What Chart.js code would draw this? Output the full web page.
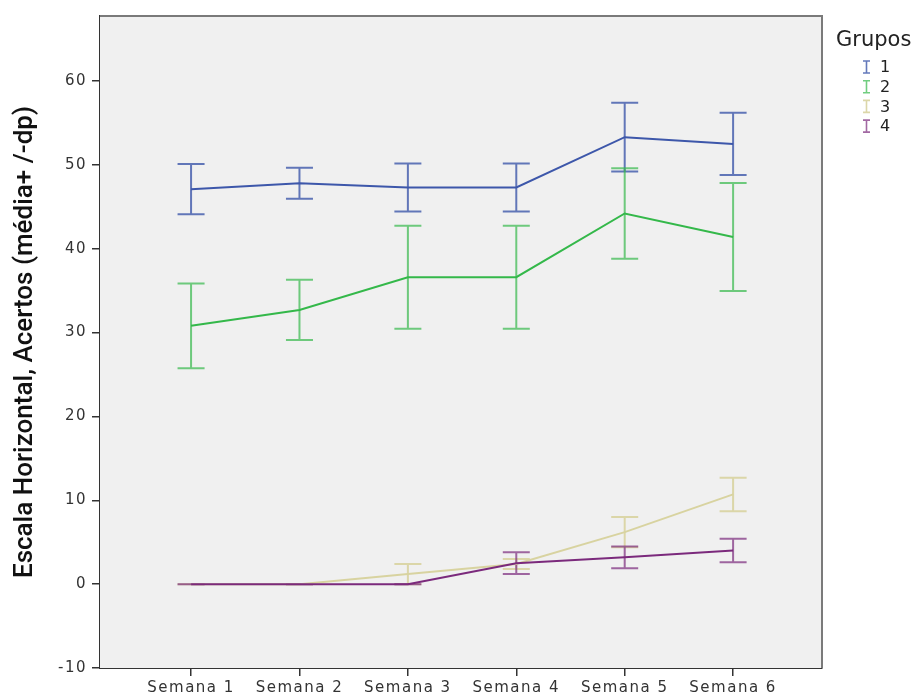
<!DOCTYPE html>
<html>
<head>
<meta charset="utf-8">
<script src="https://cdn.jsdelivr.net/npm/chart.js@4/dist/chart.umd.min.js"></script>
<style>
  html, body { margin: 0; padding: 0; background: #ffffff; }
  #wrap { width: 918px; height: 700px; }
</style>
</head>
<body>
<div id="wrap"><canvas id="chart" width="918" height="700"></canvas></div>
<script>
// Weekly accuracy scores per group: means and standard deviations
const weeks = ['Semana 1', 'Semana 2', 'Semana 3', 'Semana 4', 'Semana 5', 'Semana 6'];
const groupNames = ['1', '2', '3', '4'];
const yTitle = 'Escala Horizontal, Acertos (média+ /-dp)';
const legendTitle = 'Grupos';

const mean1 = [47.1, 47.8, 47.3, 47.3, 53.3, 52.5];
const sd1   = [3.0, 1.85, 2.85, 2.85, 4.1, 3.7];
const mean2 = [30.8, 32.7, 36.6, 36.6, 44.2, 41.4];
const sd2   = [5.05, 3.6, 6.15, 6.15, 5.4, 6.45];
const mean3 = [0, 0, 1.2, 2.4, 6.2, 10.7];
const sd3   = [0, 0, 1.2, 0.6, 1.8, 2.0];
const mean4 = [0, 0, 0, 2.5, 3.2, 4.0];
const sd4   = [0, 0, 0, 1.3, 1.3, 1.4];

const yTicks = [-10, 0, 10, 20, 30, 40, 50, 60];

const colors = ['#3D57AA', '#34B84A', '#D8D3A0', '#7B2A7C'];
const barColors = ['rgba(61,87,170,0.8)', 'rgba(52,184,74,0.7)', 'rgba(216,211,160,0.9)', 'rgba(123,42,124,0.7)'];

const means = [mean1, mean2, mean3, mean4];
const sds = [sd1, sd2, sd3, sd4];

const datasets = means.map((m, g) => ({
  label: groupNames[g],
  data: m.map((v, i) => ({ x: i + 1, y: v })),
  sd: sds[g],
  borderColor: colors[g],
  backgroundColor: colors[g],
  borderWidth: 2,
  pointRadius: 0,
  tension: 0,
  order: 3 - g
}));

const tickFont = { family: 'DejaVu Sans', size: 15 };
const textColor = '#333333';

// Slightly tracked tick labels, plot background, frame and axis title
const frame = {
  id: 'frame',
  beforeDraw(chart) {
    chart.ctx.letterSpacing = '1.5px';
  },
  beforeDatasetsDraw(chart) {
    const { ctx, chartArea: a } = chart;
    ctx.letterSpacing = '0px';
    ctx.save();
    ctx.fillStyle = '#F0F0F0';
    ctx.fillRect(a.left, a.top, a.right - a.left, a.bottom - a.top);
    ctx.restore();
  },
  afterDraw(chart) {
    const { ctx, chartArea: a } = chart;
    ctx.save();
    ctx.letterSpacing = '0px';
    // top and right frame
    ctx.strokeStyle = '#7a7a7a';
    ctx.lineWidth = 2;
    ctx.beginPath();
    ctx.moveTo(a.left, a.top);
    ctx.lineTo(a.right, a.top);
    ctx.lineTo(a.right, a.bottom);
    ctx.stroke();
    // vertical axis title
    ctx.translate(25, (a.top + a.bottom) / 2);
    ctx.rotate(-Math.PI / 2);
    ctx.fillStyle = '#111111';
    ctx.font = '500 26px Roboto';
    ctx.textAlign = 'center';
    ctx.textBaseline = 'middle';
    ctx.fillText(yTitle, 0, 0);
    ctx.restore();
  }
};

// Mean +/- sd whiskers with caps
const errorBars = {
  id: 'errorBars',
  beforeDatasetsDraw(chart) {
    const { ctx } = chart;
    const xs = chart.scales.x, ys = chart.scales.y;
    const half = 13.5;
    ctx.save();
    chart.data.datasets.forEach((ds, g) => {
      ctx.strokeStyle = barColors[g];
      ctx.lineWidth = 2;
      ds.data.forEach((p, i) => {
        const x = xs.getPixelForValue(p.x);
        const yHi = ys.getPixelForValue(p.y + ds.sd[i]);
        const yLo = ys.getPixelForValue(p.y - ds.sd[i]);
        ctx.beginPath();
        ctx.moveTo(x, yHi); ctx.lineTo(x, yLo);
        ctx.moveTo(x - half, yHi); ctx.lineTo(x + half, yHi);
        ctx.moveTo(x - half, yLo); ctx.lineTo(x + half, yLo);
        ctx.stroke();
      });
    });
    ctx.restore();
  }
};

// Legend with I-shaped markers
const groupLegend = {
  id: 'groupLegend',
  afterDraw(chart) {
    const { ctx } = chart;
    ctx.save();
    ctx.letterSpacing = '0px';
    ctx.fillStyle = '#222222';
    ctx.font = '21px "DejaVu Sans"';
    ctx.textBaseline = 'alphabetic';
    ctx.textAlign = 'left';
    ctx.fillText(legendTitle, 836, 46);
    ctx.font = '16px "DejaVu Sans"';
    ctx.textBaseline = 'middle';
    chart.data.datasets.forEach((ds, g) => {
      const y = 67 + g * 19.7;
      const x = 866.5;
      ctx.strokeStyle = barColors[g];
      ctx.lineWidth = 1.6;
      ctx.beginPath();
      ctx.moveTo(x, y - 6); ctx.lineTo(x, y + 6);
      ctx.moveTo(x - 3.5, y - 6); ctx.lineTo(x + 3.5, y - 6);
      ctx.moveTo(x - 3.5, y + 6); ctx.lineTo(x + 3.5, y + 6);
      ctx.stroke();
      ctx.fillStyle = '#222222';
      ctx.fillText(ds.label, 880, y + 1);
    });
    ctx.restore();
  }
};

new Chart(document.getElementById('chart'), {
  type: 'line',
  data: { datasets },
  options: {
    responsive: false,
    animation: false,
    layout: { padding: { top: 16, right: 96, bottom: 0, left: 0 } },
    plugins: { legend: { display: false }, tooltip: { enabled: false } },
    scales: {
      x: {
        type: 'linear',
        min: 0.16,
        max: 6.82,
        afterBuildTicks(scale) { scale.ticks = weeks.map((w, i) => ({ value: i + 1 })); },
        afterFit(scale) { scale.height = 32; },
        ticks: {
          font: tickFont,
          color: textColor,
          padding: 3,
          maxRotation: 0,
          autoSkip: false,
          callback: (v) => weeks[v - 1]
        },
        grid: { drawOnChartArea: false, drawTicks: true, tickLength: 8, color: '#333333', lineWidth: 1.5 },
        border: { display: true, color: '#333333', width: 2 }
      },
      y: {
        type: 'linear',
        min: -10,
        max: 67.75,
        afterBuildTicks(scale) { scale.ticks = yTicks.map(v => ({ value: v })); },
        afterFit(scale) { scale.width = 100; },
        ticks: { font: tickFont, color: textColor, padding: 5, callback: (v) => String(v) },
        grid: { drawOnChartArea: false, drawTicks: true, tickLength: 8, color: '#333333', lineWidth: 1.5 },
        border: { display: true, color: '#333333', width: 3 }
      }
    }
  },
  plugins: [frame, errorBars, groupLegend]
});
</script>
</body>
</html>
